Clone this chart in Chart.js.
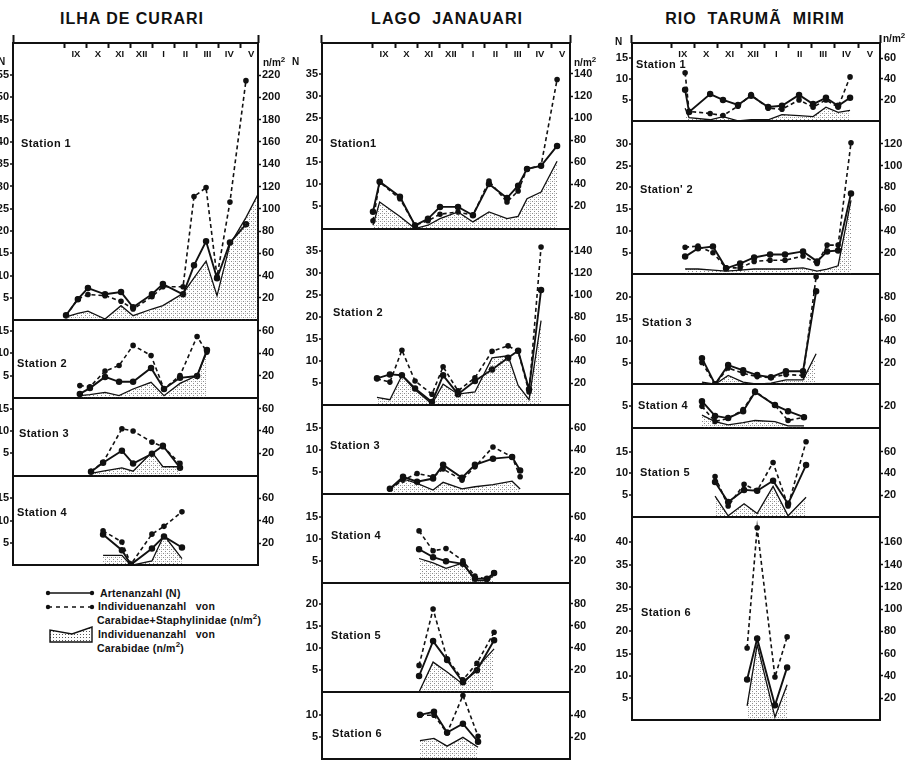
<!DOCTYPE html>
<html>
<head>
<meta charset="utf-8">
<script src="https://cdn.jsdelivr.net/npm/chart.js@4.4.1/dist/chart.umd.min.js"></script>
<style>
body { margin: 0; background: #fff; width: 913px; height: 767px; position: relative; overflow: hidden;
       font-family: "Liberation Sans", Arial, sans-serif; color: #111; }
canvas { position: absolute; }
.t { position: absolute; font-weight: bold; white-space: nowrap; line-height: 1; }
.title { font-size: 16px; letter-spacing: 1px; top: 11px; transform: translateX(-50%); }
.st { font-size: 11px; letter-spacing: 0.4px; transform: translateY(-50%); }
.unit { font-size: 10px; transform: translateY(-50%); }
.leg { font-size: 10.5px; letter-spacing: 0.2px; transform: translateY(-50%); }
svg { position: absolute; }
</style>
</head>
<body>
<div class="t title" style="left:132px">ILHA DE CURARI</div>
<div class="t title" style="left:447px">LAGO&nbsp; JANAUARI</div>
<div class="t title" style="left:755px">RIO&nbsp; TARUMÃ&nbsp; MIRIM</div>

<canvas id="ilha" width="301" height="540" style="left:-13px;top:33px"></canvas>
<canvas id="lago" width="304" height="734" style="left:296px;top:33px"></canvas>
<canvas id="rio" width="304" height="695" style="left:606px;top:33px"></canvas>

<div class="t unit" style="left:-2px;top:62px">N</div>
<div class="t unit" style="left:263px;top:62px">n/m<sup style="font-size:8px">2</sup></div>
<div class="t unit" style="left:292px;top:62px">N</div>
<div class="t unit" style="left:574px;top:62px">n/m<sup style="font-size:8px">2</sup></div>
<div class="t unit" style="left:615px;top:42px">N</div>
<div class="t unit" style="left:883px;top:38px">n/m<sup style="font-size:8px">2</sup></div>

<div class="t st" style="left:21px;top:143px">Station 1</div>
<div class="t st" style="left:17px;top:363px">Station 2</div>
<div class="t st" style="left:19px;top:433px">Station 3</div>
<div class="t st" style="left:17px;top:512px">Station 4</div>

<div class="t st" style="left:330px;top:143px">Station1</div>
<div class="t st" style="left:333px;top:312px">Station 2</div>
<div class="t st" style="left:330px;top:445px">Station 3</div>
<div class="t st" style="left:331px;top:535px">Station 4</div>
<div class="t st" style="left:331px;top:635px">Station 5</div>
<div class="t st" style="left:332px;top:733px">Station 6</div>

<div class="t st" style="left:636px;top:64px">Station 1</div>
<div class="t st" style="left:640px;top:189px">Station' 2</div>
<div class="t st" style="left:642px;top:322px">Station 3</div>
<div class="t st" style="left:638px;top:405px">Station 4</div>
<div class="t st" style="left:640px;top:472px">Station 5</div>
<div class="t st" style="left:641px;top:612px">Station 6</div>

<svg style="left:44px;top:586px" width="54" height="62">
  <defs>
    <pattern id="dots" width="3" height="3" patternUnits="userSpaceOnUse">
      <rect width="1" height="1" fill="#555"/>
    </pattern>
  </defs>
  <line x1="4" y1="7" x2="48" y2="7" stroke="#111" stroke-width="1.6"/>
  <circle cx="4" cy="7" r="2.2" fill="#111"/><circle cx="48" cy="7" r="2.2" fill="#111"/>
  <line x1="4" y1="21" x2="48" y2="21" stroke="#111" stroke-width="1.6" stroke-dasharray="4,4"/>
  <circle cx="4" cy="21" r="2.2" fill="#111"/><circle cx="48" cy="21" r="2.2" fill="#111"/>
  <path d="M6 56 L6 44 L28 48 L48 41 L48 56 Z" fill="url(#dots)" stroke="#111" stroke-width="1.4"/>
</svg>
<div class="t leg" style="left:100px;top:593px">Artenanzahl (N)</div>
<div class="t leg" style="left:98px;top:606px">Individuenanzahl&nbsp;&nbsp; von</div>
<div class="t leg" style="left:97px;top:619px">Carabidae+Staphylinidae (n/m<sup style="font-size:8px">2</sup>)</div>
<div class="t leg" style="left:98px;top:634px">Individuenanzahl&nbsp;&nbsp; von</div>
<div class="t leg" style="left:97px;top:647px">Carabidae (n/m<sup style="font-size:8px">2</sup>)</div>

<script>
// months on the top axis, x in month units (0 = start of IX)
var months = ['IX', 'X', 'XI', 'XII', 'I', 'II', 'III', 'IV', 'V'];

// tick labels
var nTicks55 = [5, 10, 15, 20, 25, 30, 35, 40, 45, 50, 55];
var rTicks220 = [20, 40, 60, 80, 100, 120, 140, 160, 180, 200, 220];
var nTicks35 = [5, 10, 15, 20, 25, 30, 35];
var rTicks140 = [20, 40, 60, 80, 100, 120, 140];
var nTicks40 = [5, 10, 15, 20, 25, 30, 35, 40];
var rTicks160 = [20, 40, 60, 80, 100, 120, 140, 160];
var nTicks30 = [5, 10, 15, 20, 25, 30];
var rTicks120 = [20, 40, 60, 80, 100, 120];
var nTicks20 = [5, 10, 15, 20];
var rTicks80 = [20, 40, 60, 80];
var nTicks15 = [5, 10, 15];
var rTicks60 = [20, 40, 60];
var nTicks10 = [5, 10];
var rTicks40 = [20, 40];
var nTicks5 = [5];
var rTicks20 = [20];

// ILHA DE CURARI  (N = Artenanzahl, CS = Carabidae+Staphylinidae n/m2, Car = Carabidae n/m2)
var ilha1X = [0.05, 0.59, 1.05, 1.83, 2.56, 3.11, 3.97, 4.47, 5.39, 5.89, 6.44, 6.94, 7.53, 8.26, 8.81];
var ilha1N = [1.1, 4.7, 7.2, 5.8, 6.3, 2.9, 5.8, 8.1, 5.8, 12.3, 17.7, 9.4, 17.4, 21.5, null];
var ilha1CS = [4, 19, 23, 22, 17, 10, 21, 30, 30, 111, 119, 39, 106, 215, null];
var ilha1Car = [3, 6, 8, 1, 13, 4, 10, 13, 24, 38, 53, 22, 68, 92, 113];

var ilha2X = [0.68, 1.14, 1.83, 2.47, 3.11, 3.93, 4.52, 5.25, 6.03, 6.48];
var ilha2N = [0.9, 2.2, 4.7, 3.6, 3.6, 6.7, 2.0, 4.5, 4.9, 10.7];
var ilha2CS = [11, 10, 24, 29, 47, 38, 8, 20, 55, 41];
var ilha2Car = [2, 3, 5, 2, 8, 14, 2, 13, 20, 41];

var ilha3X = [1.19, 1.74, 2.6, 3.11, 3.97, 4.47, 5.25];
var ilha3N = [0.9, 2.9, 5.6, 2.7, 4.9, 6.7, 1.8];
var ilha3CS = [4, 12, 42, 40, 30, 26, 11];
var ilha3Car = [2, 4, 7, 4, 21, 8, 8];

var ilha4X = [1.74, 2.6, 3.01, 3.97, 4.52, 5.34];
var ilha4N = [6.9, 3.4, 0.2, 3.8, 6.5, 4.0];
var ilha4CS = [31, 21, 1, 28, 35, 48];
var ilha4Car = [9, 9, 0, 4, 27, 6];

// LAGO JANAUARI
var lago1X = [0.0, 0.3, 1.21, 1.89, 2.47, 3.01, 3.82, 4.49, 5.21, 6.02, 6.52, 6.92, 7.55, 8.27];
var lago1N = [3.8, 10.6, 7.2, 0.7, 2.2, 4.9, 4.9, 3.0, 10.1, 6.9, 9.7, 13.5, 14.2, 18.7];
var lago1CS = [7, 42, 27, 3, 7, 13, 15, 12, 43, 24, 34, 54, 57, 135];
var lago1Car = [3, 24, 11, 0, 3, 9, 15, 6, 15, 9, 11, 27, 33, 61];

var lago2X = [0.18, 0.76, 1.3, 1.89, 2.65, 3.15, 3.82, 4.58, 5.35, 6.07, 6.52, 7.01, 7.55];
var lago2N = [6.1, 7.0, 6.8, 3.8, 0.7, 6.8, 2.5, 5.5, 8.1, 10.8, 12.4, 3.6, 26.2];
var lago2CS = [24, 21, 50, 22, 10, 35, 13, 25, 49, 54, 49, 12, 144];
var lago2Car = [7, 5, 27, 14, 1, 19, 10, 12, 43, 45, 18, 5, 77];

var lago3X = [0.76, 1.35, 1.98, 2.7, 3.15, 4.0, 4.58, 5.39, 6.25, 6.61];
var lago3N = [1.3, 4.0, 2.9, 3.6, 6.7, 3.8, 6.7, 8.1, 8.5, 5.4];
var lago3CS = [5, 13, 19, 16, 23, 13, 25, 43, 34, 16];
var lago3Car = [5, 14, 10, 4, 11, 5, 7, 9, 12, 5];

var lago4X = [2.07, 2.7, 3.28, 4.04, 4.58, 5.12, 5.44];
var lago4N = [7.6, 5.8, 4.9, 4.3, 0.9, 0.9, 2.2];
var lago4CS = [47, 29, 31, 20, 6, 3, 9];
var lago4Car = [22, 18, 13, 18, 2, 2, 7];

var lago5X = [2.07, 2.7, 3.33, 4.04, 4.67, 5.44];
var lago5N = [3.6, 11.5, 7.2, 2.2, 4.9, 11.7];
var lago5CS = [24, 75, 30, 11, 26, 54];
var lago5Car = [0, 27, 18, 7, 22, 39];

var lago6X = [2.11, 2.74, 3.33, 4.04, 4.72];
var lago6N = [10.1, 10.8, 6.1, 8.1, 4.0];
var lago6CS = [40, 40, 24, 58, 21];
var lago6Car = [17, 19, 12, 20, 11];

// RIO TARUMA MIRIM
var rio1X = [0.6, 0.77, 1.67, 2.22, 2.86, 3.42, 4.15, 4.74, 5.47, 6.07, 6.62, 7.14, 7.65];
var rio1N = [7.4, 2.1, 6.4, 5.0, 3.8, 6.0, 3.3, 3.6, 6.2, 4.0, 5.5, 3.6, 5.5];
var rio1CS = [46, 9, 7, 5, 14, 25, 12, 11, 20, 13, 20, 13, 42];
var rio1Car = [12, 3, 1, 4, 0, 1, 1, 6, 5, 4, 13, 8, 10];

var rio2X = [0.6, 1.15, 1.79, 2.35, 2.95, 3.55, 4.23, 4.87, 5.64, 6.24, 6.67, 7.14, 7.69];
var rio2N = [4.1, 6.0, 6.4, 1.4, 2.5, 3.9, 4.6, 4.6, 5.3, 3.0, 5.3, 5.5, 18.6];
var rio2CS = [25, 26, 20, 6, 6, 12, 13, 13, 17, 10, 27, 27, 121];
var rio2Car = [5, 5, 4, 3, 4, 5, 5, 5, 6, 3, 5, 8, 68];

var rio3X = [1.32, 1.88, 2.44, 3.08, 3.68, 4.27, 4.91, 5.64, 6.2];
var rio3N = [6.0, 0, 4.4, 3.2, 2.1, 1.6, 3.0, 3.0, 21.4];
var rio3CS = [20, 0, 15, 10, 7, 6, 9, 8, 99];
var rio3Car = [2, 0, 8, 2, 0, 1, 4, 4, 28];

var rio4X = [1.32, 1.88, 2.44, 3.08, 3.59, 4.44, 5.0, 5.68];
var rio4N = [6.2, 2.8, 2.3, 3.9, 8.3, 5.3, 3.9, 2.5];
var rio4CS = [20, 6, 9, 17, 34, 21, 7, 10];
var rio4Car = [12, 6, 3, 5, 7, 6, 2, 2];

var rio5X = [1.88, 2.44, 3.12, 3.68, 4.36, 5.0, 5.77];
var rio5N = [8.0, 3.4, 6.2, 6.0, 8.3, 3.0, 11.9];
var rio5CS = [37, 10, 30, 24, 50, 10, 69];
var rio5Car = [19, 1, 12, 3, 28, 1, 18];

var rio6X = [3.25, 3.68, 4.44, 4.96];
var rio6N = [9.2, 18.4, 3.4, 11.9];
var rio6CS = [65, 173, 39, 75];
var rio6Car = [13, 68, 3, 32];

var INK = '#111';
var NONE = 'rgba(0,0,0,0)';
var tickFont = { family: '"Liberation Sans", Arial, sans-serif', size: 11, weight: 'bold' };

function stipple() {
    var c = document.createElement('canvas');
    c.width = 4;
    c.height = 4;
    var g = c.getContext('2d');
    g.fillStyle = 'rgba(60,60,60,0.6)';
    g.fillRect(0, 0, 1, 1);
    g.fillRect(2, 2, 1, 1);
    g.fillStyle = 'rgba(60,60,60,0.3)';
    g.fillRect(2, 0, 1, 1);
    return g.createPattern(c, 'repeat');
}
var shade = stipple();

function points(xs, ys) {
    var out = [];
    for (var k = 0; k < xs.length; k++) {
        out.push({ x: xs[k], y: ys[k] });
    }
    return out;
}

function buildColumn(canvasId, xMin, xMax, panels) {
    var scales = {};
    var datasets = [];
    var np = panels.length;
    var monthTicks = [];
    for (var m = 0; m < months.length; m++) {
        monthTicks.push(m);
        monthTicks.push(m + 0.5);
    }
    scales.x = {
        type: 'linear', position: 'bottom', min: xMin, max: xMax,
        ticks: { display: false },
        grid: { drawOnChartArea: false, drawTicks: false },
        border: { display: true, color: INK, width: 2 },
        afterFit: function (s) { s.height = 0; }
    };
    // short stubs: the two side axes poke up a little above the frame
    scales.xe = {
        type: 'linear', position: 'top', weight: 10, min: xMin, max: xMax,
        afterBuildTicks: function (s) { s.ticks = [{ value: xMin }, { value: xMax }]; },
        ticks: { display: false },
        grid: { drawOnChartArea: false, tickLength: 8, tickWidth: 2, tickColor: INK },
        border: { display: false },
        afterFit: function (s) { s.height = 8; }
    };
    // month names sit just under the top frame line, boundary marks hang down from it
    // (mirror keeps the labels from being clipped to the zero-height axis box)
    scales.xt = {
        type: 'linear', position: 'top', weight: 0, min: xMin, max: xMax,
        afterBuildTicks: function (s) { s.ticks = monthTicks.map(function (v) { return { value: v }; }); },
        ticks: {
            autoSkip: false, maxRotation: 0, padding: 6, mirror: true, color: INK,
            font: { family: tickFont.family, size: 9.5, weight: 'bold' },
            callback: function (v) {
                var k = v - 0.5;
                return Number.isInteger(k) ? months[k] : '';
            }
        },
        grid: {
            drawOnChartArea: false, tickLength: -5, tickWidth: 2,
            tickColor: function (ctx) { return ctx.tick && ctx.tick.value % 1 === 0 ? INK : NONE; }
        },
        border: { display: true, color: INK, width: 2 },
        afterFit: function (s) { s.height = 0; }
    };
    panels.forEach(function (p, i) {
        scales['L' + i] = {
            type: 'linear', position: 'left', stack: 'col', stackWeight: p.h, weight: np - i,
            min: 0, max: p.max,
            afterBuildTicks: function (s) { s.ticks = [0].concat(p.nT).map(function (v) { return { value: v }; }); },
            afterFit: function (s) { s.width = 26; },
            ticks: {
                autoSkip: false, padding: 1, color: INK, font: tickFont,
                callback: function (v) { return v === 0 ? '' : v; }
            },
            grid: {
                lineWidth: 2, tickLength: 3, tickWidth: 1.5,
                color: function (ctx) { return ctx.tick && ctx.tick.value === 0 ? INK : NONE; },
                tickColor: function (ctx) { return ctx.tick && ctx.tick.value === 0 ? NONE : INK; }
            },
            border: { display: true, color: INK, width: 2 }
        };
        scales['R' + i] = {
            type: 'linear', position: 'right', stack: 'col', stackWeight: p.h, weight: i,
            min: 0, max: p.max * 4,
            afterBuildTicks: function (s) { s.ticks = p.rT.map(function (v) { return { value: v }; }); },
            afterFit: function (s) { s.width = 30; },
            ticks: { autoSkip: false, padding: 1, color: INK, font: tickFont },
            grid: { drawOnChartArea: false, tickLength: 3, tickWidth: 1.5, tickColor: INK },
            border: { display: true, color: INK, width: 2 }
        };
        datasets.push({
            label: 'Carabidae', data: points(p.x, p.car), xAxisID: 'x', yAxisID: 'R' + i,
            borderColor: INK, borderWidth: 1.3, pointRadius: 0, fill: 'origin',
            backgroundColor: shade, spanGaps: true, tension: 0
        });
        datasets.push({
            label: 'Carabidae+Staphylinidae', data: points(p.x, p.cs), xAxisID: 'x', yAxisID: 'R' + i,
            borderColor: INK, borderWidth: 1.6, borderDash: [4, 3], pointRadius: 2,
            pointBackgroundColor: INK, pointBorderColor: INK, fill: false, spanGaps: true, tension: 0
        });
        datasets.push({
            label: 'Artenanzahl', data: points(p.x, p.n), xAxisID: 'x', yAxisID: 'L' + i,
            borderColor: INK, borderWidth: 1.9, pointRadius: 2.3,
            pointBackgroundColor: INK, pointBorderColor: INK, fill: false, spanGaps: true, tension: 0
        });
    });
    new Chart(document.getElementById(canvasId), {
        type: 'line',
        data: { datasets: datasets },
        options: {
            responsive: false,
            animation: false,
            events: [],
            layout: { padding: { top: 2, bottom: 2, left: 0, right: 0 } },
            plugins: { legend: { display: false }, tooltip: { enabled: false } },
            scales: scales
        }
    });
}

buildColumn('ilha', -2.37, 8.81, [
    { x: ilha1X, n: ilha1N, cs: ilha1CS, car: ilha1Car, max: 62.2, h: 278, nT: nTicks55, rT: rTicks220 },
    { x: ilha2X, n: ilha2N, cs: ilha2CS, car: ilha2Car, max: 17.4, h: 78, nT: nTicks15, rT: rTicks60 },
    { x: ilha3X, n: ilha3N, cs: ilha3CS, car: ilha3Car, max: 17.4, h: 78, nT: nTicks15, rT: rTicks60 },
    { x: ilha4X, n: ilha4N, cs: ilha4CS, car: ilha4Car, max: 20.1, h: 90, nT: nTicks15, rT: rTicks60 }
]);

buildColumn('lago', -2.29, 8.85, [
    { x: lago1X, n: lago1N, cs: lago1CS, car: lago1Car, max: 42, h: 187, nT: nTicks35, rT: rTicks140 },
    { x: lago2X, n: lago2N, cs: lago2CS, car: lago2Car, max: 40.2, h: 178, nT: nTicks35, rT: rTicks140 },
    { x: lago3X, n: lago3N, cs: lago3CS, car: lago3Car, max: 20.2, h: 90, nT: nTicks15, rT: rTicks60 },
    { x: lago4X, n: lago4N, cs: lago4CS, car: lago4Car, max: 20, h: 89, nT: nTicks15, rT: rTicks60 },
    { x: lago5X, n: lago5N, cs: lago5CS, car: lago5Car, max: 24.7, h: 110, nT: nTicks20, rT: rTicks80 },
    { x: lago6X, n: lago6N, cs: lago6CS, car: lago6Car, max: 15.3, h: 68, nT: nTicks10, rT: rTicks40 }
]);

buildColumn('rio', -1.67, 8.93, [
    { x: rio1X, n: rio1N, cs: rio1CS, car: rio1Car, max: 18.6, h: 78, nT: nTicks15, rT: rTicks60 },
    { x: rio2X, n: rio2N, cs: rio2CS, car: rio2Car, max: 35.3, h: 154, nT: nTicks30, rT: rTicks120 },
    { x: rio3X, n: rio3N, cs: rio3CS, car: rio3Car, max: 25.3, h: 110, nT: nTicks20, rT: rTicks80 },
    { x: rio4X, n: rio4N, cs: rio4CS, car: rio4Car, max: 10.1, h: 44, nT: nTicks5, rT: rTicks20 },
    { x: rio5X, n: rio5N, cs: rio5CS, car: rio5Car, max: 20.4, h: 89, nT: nTicks15, rT: rTicks60 },
    { x: rio6X, n: rio6N, cs: rio6CS, car: rio6Car, max: 45.7, h: 204, nT: nTicks40, rT: rTicks160 }
]);
</script>
</body>
</html>
